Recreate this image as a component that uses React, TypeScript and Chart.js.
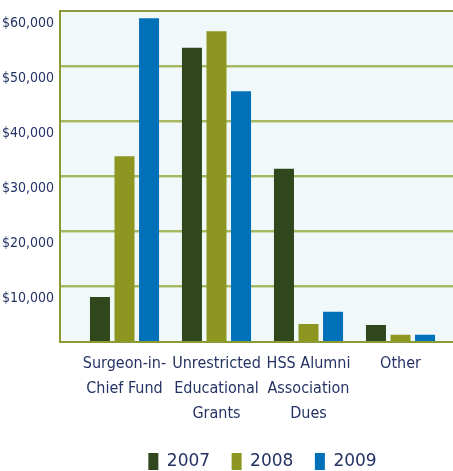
import React, { useEffect, useRef } from "react";
import { Chart, registerables } from "chart.js";

Chart.register(...registerables);

const categories: string[][] = [
  ["Surgeon-in-", "Chief Fund"],
  ["Unrestricted", "Educational", "Grants"],
  ["HSS Alumni", "Association", "Dues"],
  ["Other"],
];
const seriesNames = ["2007", "2008", "2009"];
const values2007 = [8000, 53300, 31300, 2900];
const values2008 = [33600, 56300, 3100, 1150];
const values2009 = [58700, 45400, 5300, 1150];
const yTicks = [0, 10000, 20000, 30000, 40000, 50000, 60000];

const colors = ["#30461c", "#8c9620", "#0070b8"];
const navy = "#243364";
const condensedFamily = "'DejaVu Sans', sans-serif";

const backgroundPlugin = {
  id: "plotBackground",
  beforeDraw(chart: any) {
    const { ctx, scales, width } = chart;
    const y = scales.y;
    const left = 60;
    const top = y.getPixelForValue(60000);
    const bottom = y.getPixelForValue(0);
    ctx.save();
    ctx.fillStyle = "#f0f8fa";
    ctx.fillRect(left, top, width - left, bottom - top);
    for (const v of yTicks) {
      if (v === 0 || v === 60000) continue;
      const py = Math.round(y.getPixelForValue(v));
      ctx.fillStyle = "#a8b763";
      ctx.fillRect(left, py - 1, width - left, 2);
      ctx.fillStyle = "#cfdbb0";
      ctx.fillRect(left, py + 1, width - left, 1);
    }
    ctx.fillStyle = "#8a9a3c";
    ctx.fillRect(left, Math.round(top) - 1, width - left, 2);
    ctx.fillStyle = "#8c9a34";
    ctx.fillRect(left, Math.round(bottom), width - left, 2);
    ctx.fillRect(left - 1, Math.round(top) - 1, 2, bottom - top + 3);
    ctx.restore();
  },
};

export default function App() {
  const canvasRef = useRef<HTMLCanvasElement | null>(null);

  useEffect(() => {
    document.body.style.margin = "0";
    const canvas = canvasRef.current;
    if (!canvas) return;
    const chart = new Chart(canvas, {
      type: "bar",
      data: {
        labels: categories,
        datasets: [values2007, values2008, values2009].map((d, i) => ({
          label: seriesNames[i],
          data: d,
          backgroundColor: colors[i],
          borderWidth: 0,
          categoryPercentage: 0.8,
          barPercentage: 0.816,
        })),
      },
      options: {
        animation: false,
        responsive: true,
        maintainAspectRatio: false,
        layout: { padding: { left: 0, right: 6.5, top: 11, bottom: 0 } },
        plugins: {
          tooltip: { enabled: false },
          legend: {
            position: "bottom",
            fullSize: false,
            labels: {
              boxWidth: 10,
              boxHeight: 17,
              padding: 21.5,
              color: navy,
              font: { family: "'DejaVu Sans', sans-serif", size: 17 },
            },
          },
        },
        scales: {
          x: {
            grid: { display: false },
            border: { display: false },
            ticks: {
              color: navy,
              padding: 2,
              maxRotation: 0,
              autoSkip: false,
              font: { family: condensedFamily, size: 16, weight: "condensed" as any, lineHeight: 25 / 16 },
            },
            afterFit: (axis: any) => {
              axis.height = 90.5;
              axis.paddingLeft = 0;
              axis.paddingRight = 0;
            },
          },
          y: {
            min: 0,
            max: 60000,
            grid: { display: false, drawTicks: false },
            border: { display: false },
            ticks: {
              stepSize: 10000,
              color: navy,
              padding: 24.5,
              labelOffset: 12,
              font: { family: condensedFamily, size: 14, weight: "condensed" as any },
              callback: (v: any) => (v === 0 ? "" : "$" + Number(v).toLocaleString("en-US")),
            },
            afterFit: (axis: any) => {
              axis.width = 78.5;
              axis.paddingTop = 0;
              axis.paddingBottom = 0;
            },
          },
        },
      },
      plugins: [backgroundPlugin],
    });
    return () => chart.destroy();
  }, []);

  return (
    <div style={{ width: 453, height: 480, position: "relative" }}>
      <canvas ref={canvasRef} />
    </div>
  );
}
